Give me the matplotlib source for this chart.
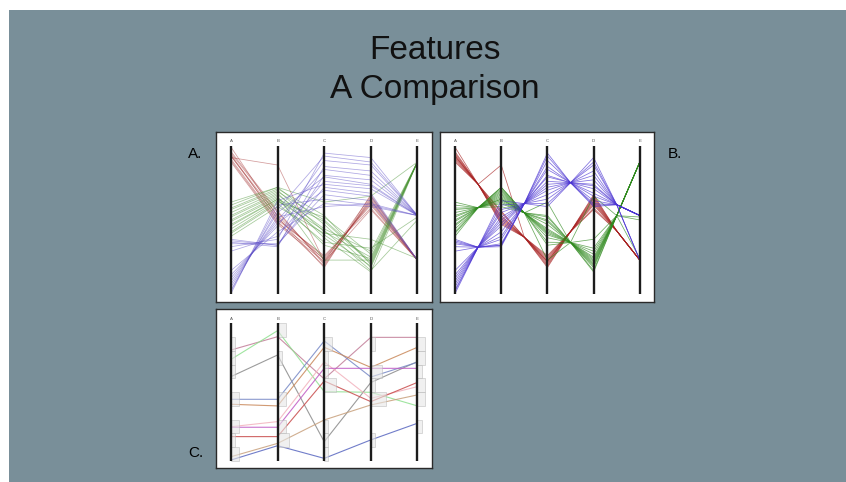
"""Parallel coordinates feature comparison: plain, bundled and histogram variants."""

import matplotlib

matplotlib.use("Agg")
import matplotlib.pyplot as plt
import numpy as np
from matplotlib.patches import Rectangle

W, H = 846, 482

dims = ["A", "B", "C", "D", "E"]

# panels A / B: three clusters, values on a 0-100 scale (100 = top of axis)
red_a = [99, 92, 96, 95, 93, 93, 94, 91, 90, 89]
red_b = [52, 87, 56, 55, 53, 51, 50, 49, 48, 47]
red_c = [18, 22, 20, 21, 23, 25, 26, 19, 24, 22]
red_d = [67, 66, 64, 63, 62, 60, 58, 65, 61, 57]
red_e = [23, 23, 23, 23, 23, 23, 23, 23, 23, 23]

green_a = [62, 60, 58, 57, 55, 53, 52, 50, 49, 47, 46, 44, 42, 41, 39]
green_b = [72, 72, 71, 70, 69, 68, 67, 66, 65, 64, 64, 63, 62, 61, 59]
green_c = [62, 47, 53, 42, 50, 38, 44, 23, 40, 49, 33, 43, 52, 35, 41]
green_d = [66, 18, 20, 25, 22, 15, 29, 23, 19, 21, 24, 16, 27, 31, 37]
green_e = [89, 89, 89, 89, 89, 89, 89, 89, 89, 89, 89, 50, 89, 52, 24]

blue_a = [37, 36, 35, 34, 32, 29, 16, 13, 11, 9, 7, 5, 3, 2, 0.5]
blue_b = [33, 33, 32, 34, 37, 39, 42, 46, 48, 50, 52, 55, 57, 60, 63]
blue_c = [80, 72, 86, 67, 95, 76, 61, 90, 70, 84, 59, 79, 93, 64, 74]
blue_d = [77, 68, 83, 63, 92, 73, 59, 87, 66, 80, 61, 74, 89, 60, 71]
blue_e = [53, 23, 53, 23, 53, 53, 53, 53, 23, 53, 53, 53, 53, 53, 53]

clusters = {
    "red": [red_a, red_b, red_c, red_d, red_e],
    "green": [green_a, green_b, green_c, green_d, green_e],
    "blue": [blue_a, blue_b, blue_c, blue_d, blue_e],
}
colors_a = {"red": "#a83a3a", "green": "#4a9434", "blue": "#5e4fc8"}
colors_b = {"red": "#a82222", "green": "#2f8a1e", "blue": "#4a33d2"}

# panel C: individual records with per-axis histograms
c_a = [80.6, 73.8, 61.3, 44.8, 41.2, 24.9, 24.5, 17.7, 3.1, 0.7]
c_b = [90.3, 94.7, 77.0, 44.8, 40.0, 28.6, 24.5, 17.7, 12.8, 11.1]
c_c = [59.6, 50.4, 14.0, 87.2, 82.6, 72.0, 67.3, 58.1, 29.8, 1.9]
c_d = [89.8, 49.9, 57.0, 61.0, 68.0, 45.5, 67.3, 43.1, 40.7, 15.3]
c_e = [89.8, 40.0, 72.2, 71.7, 82.6, 54.0, 67.3, 57.1, 48.0, 27.4]
c_colors = ["#c27d98", "#8fe08f", "#8a8a8a", "#7688c6", "#c9885a",
            "#f2b2bd", "#c05ac4", "#c84a4a", "#c8a07c", "#5866c0"]


def px_axes(fig, x0, y0, x1, y1):
    return fig.add_axes([x0 / W, 1 - y1 / H, (x1 - x0) / W, (y1 - y0) / H])


def setup_panel(ax, xlim, ylim):
    ax.set_facecolor("white")
    ax.set_xlim(*xlim)
    ax.set_ylim(*ylim)
    ax.set_xticks([])
    ax.set_yticks([])
    for s in ax.spines.values():
        s.set_color("#2a2a2a")
        s.set_linewidth(1.0)
    for i, d in enumerate(dims):
        ax.plot([i, i], [0, 100], color="#1c1c1c", lw=1.7, zorder=5,
                solid_capstyle="butt")
        ax.text(i, 101.5, d, ha="center", va="bottom", fontsize=3.2,
                color="#555555")


def main():
    plt.rcParams["font.family"] = ["Liberation Sans", "DejaVu Sans"]
    fig = plt.figure(figsize=(W / 100, H / 100), dpi=100, facecolor="white")
    fig.add_artist(Rectangle((9 / W, 0), 1, 1 - 10 / H, transform=fig.transFigure,
                             facecolor="#798f99", edgecolor="none", zorder=0))

    fig.text(435 / W, 1 - 59 / H, "Features", ha="center", va="baseline",
             fontsize=24, color="#111111")
    fig.text(435 / W, 1 - 98 / H, "A Comparison", ha="center", va="baseline",
             fontsize=24, color="#111111")
    fig.text(188 / W, 1 - 158 / H, "A.", fontsize=11, va="baseline")
    fig.text(668 / W, 1 - 158 / H, "B.", fontsize=11, va="baseline")
    fig.text(188 / W, 1 - 457 / H, "C.", fontsize=11, va="baseline")

    xs = np.arange(len(dims))

    # A: plain parallel coordinates
    ax_a = px_axes(fig, 216, 132, 432, 302)
    setup_panel(ax_a, (-0.322, 4.313), (-5.2, 109.2))
    for name, cols in clusters.items():
        arr = np.array(cols).T
        for row in arr:
            ax_a.plot(xs, row, color=colors_a[name], lw=0.55, alpha=0.5)

    # B: bundled through cluster centroids between axes
    ax_b = px_axes(fig, 440, 132, 654, 302)
    setup_panel(ax_b, (-0.325, 4.307), (-5.2, 109.2))
    for name, cols in clusters.items():
        arr = np.array(cols).T
        mids = ((arr[:, :-1] + arr[:, 1:]) / 2).mean(axis=0)
        bx = np.empty(2 * len(dims) - 1)
        bx[0::2] = xs
        bx[1::2] = xs[:-1] + 0.5
        for row in arr:
            by = np.empty_like(bx)
            by[0::2] = row
            by[1::2] = mids
            ax_b.plot(bx, by, color=colors_b[name], lw=0.55, alpha=0.7)

    # C: records plus histogram boxes on each axis
    ax_c = px_axes(fig, 216, 309, 432, 468)
    setup_panel(ax_c, (-0.322, 4.313), (-5.1, 110.4))
    c_cols = [c_a, c_b, c_c, c_d, c_e]
    arr = np.array(c_cols).T
    for row, col in zip(arr, c_colors):
        ax_c.plot(xs, row, color=col, lw=0.8, alpha=0.85)
    edges = np.linspace(0, 100, 11)
    for i, col in enumerate(c_cols):
        counts, _ = np.histogram(col, bins=edges)
        for k, n in enumerate(counts):
            if n == 0:
                continue
            ax_c.add_patch(Rectangle((i, edges[k]), 0.08 * n + 0.01, 10,
                                     facecolor="#e6e6e6", edgecolor="#b8b8b8",
                                     lw=0.6, alpha=0.6, zorder=4))

    fig.savefig("out.png", dpi=100)
    plt.close(fig)


if __name__ == "__main__":
    main()
